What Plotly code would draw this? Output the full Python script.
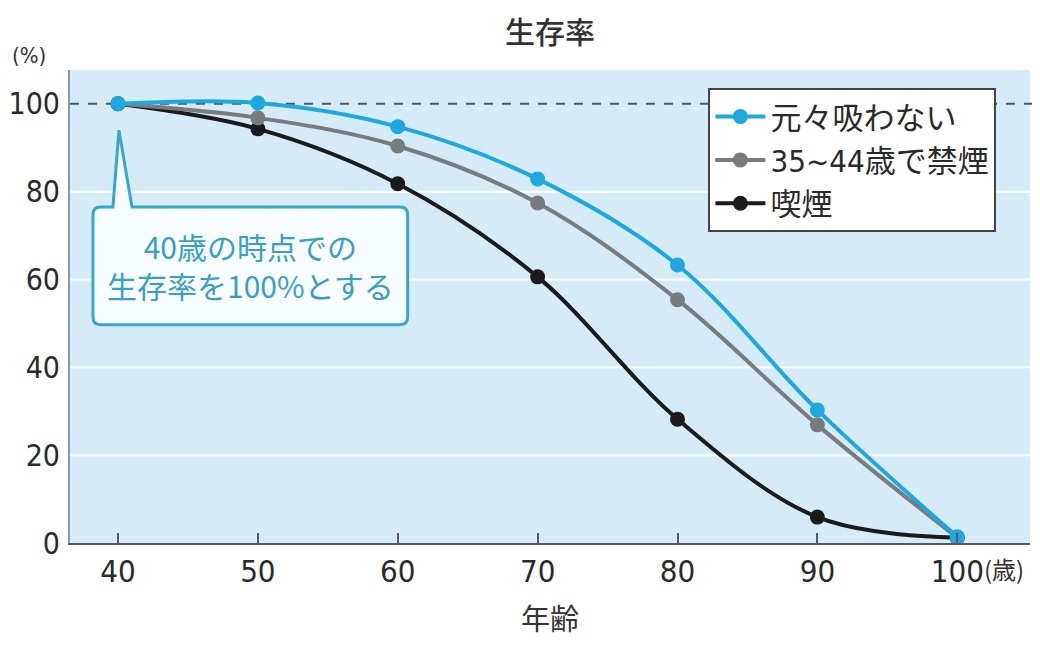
import plotly.graph_objects as go

ages = [40, 50, 60, 70, 80, 90, 100]
never_smoked = [100, 100.2, 94.8, 82.9, 63.3, 30.3, 1.4]
quit_35_44 = [100, 96.8, 90.4, 77.4, 55.4, 26.9, 1.2]
smokers = [100, 94.3, 81.8, 60.6, 28.2, 5.9, 1.2]

series_names = ["元々吸わない", "35~44歳で禁煙", "喫煙"]
series_colors = ["#1fa8e0", "#7a7b7d", "#1b1b1b"]
x_ticks = [40, 50, 60, 70, 80, 90, 100]
x_ticktext = ["40", "50", "60", "70", "80", "90", "100"]
y_ticks = [0, 20, 40, 60, 80, 100]
y_grid = [20, 40, 60, 80]
baseline_pct = 100

NARROW = "DejaVu Sans Condensed, Noto Sans CJK JP, sans-serif"
JP = "Noto Sans CJK JP, sans-serif"

fig = go.Figure()
data_sets = [never_smoked, quit_35_44, smokers]
for i in [2, 1, 0]:
    fig.add_trace(go.Scatter(
        x=ages, y=data_sets[i], name=series_names[i], mode="lines+markers",
        line=dict(color=series_colors[i], width=4, shape="spline", smoothing=1.0),
        marker=dict(color=series_colors[i], size=15),
        legendrank=i + 1,
    ))

# callout box with pointer (data coordinates)
x0, x1, yb, yt = 38.21, 60.71, 49.7, 76.5
rx, ry = 0.55, 1.8
px_l, px_a, px_r, apex_y = 39.64, 40.07, 41.0, 94.0
path = (f"M {x0+rx},{yt} L {px_l},{yt} L {px_a},{apex_y} L {px_r},{yt} L {x1-rx},{yt} "
        f"Q {x1},{yt} {x1},{yt-ry} L {x1},{yb+ry} Q {x1},{yb} {x1-rx},{yb} "
        f"L {x0+rx},{yb} Q {x0},{yb} {x0},{yb+ry} L {x0},{yt-ry} Q {x0},{yt} {x0+rx},{yt} Z")

shapes = [dict(type="line", xref="paper", yref="y", x0=0, x1=1, y0=g, y1=g,
               line=dict(color="white", width=2), layer="below") for g in y_grid]
shapes += [
    dict(type="line", xref="paper", yref="y", x0=0, x1=1.011, y0=baseline_pct, y1=baseline_pct,
         line=dict(color="#50565b", width=2, dash="dash"), layer="below"),
    dict(type="path", xref="x", yref="y", path=path, fillcolor="#f7fcfe",
         line=dict(color="#38a8c8", width=3), layer="above"),
]

annotations = [
    dict(x=49.46, y=63.1, xref="x", yref="y", text="40歳の時点での<br>生存率を100%とする",
         showarrow=False, font=dict(family=JP, size=30, color="#3aa0c2"), align="center"),
    dict(x=0.5, y=1.0, xref="paper", yref="paper", yshift=40, text="生存率", showarrow=False,
         font=dict(family=JP, size=30, color="#333333", weight=500), xanchor="center", yanchor="middle"),
    dict(x=0, y=1.0, xref="paper", yref="paper", xshift=-41, yshift=15, text="(%)", showarrow=False,
         font=dict(family=NARROW, size=22, color="#333333"), xanchor="center", yanchor="middle"),
    dict(x=100, y=0, xref="x", yref="paper", xshift=25, yshift=-25, text="(歳)", showarrow=False,
         font=dict(family=JP, size=24, color="#333333"), xanchor="left", yanchor="middle"),
    dict(x=0.5, y=0, xref="paper", yref="paper", yshift=-74, text="年齢", showarrow=False,
         font=dict(family=JP, size=29, color="#333333"), xanchor="center", yanchor="middle"),
]

fig.update_layout(
    width=1032, height=638,
    margin=dict(l=62, r=10, t=62, b=103),
    paper_bgcolor="white", plot_bgcolor="#d5ecf8",
    showlegend=True,
    legend=dict(x=0.665, y=0.962, xanchor="left", yanchor="top",
                bgcolor="white", bordercolor="#444444", borderwidth=2,
                font=dict(family=NARROW, size=31, color="#2a2a2a"),
                itemwidth=50, tracegroupgap=0),
    shapes=shapes, annotations=annotations,
    xaxis=dict(range=[36.57, 105.2], tickvals=x_ticks, ticktext=x_ticktext, automargin=False,
               ticks="inside", ticklen=10, tickwidth=2, tickcolor="#555a5e",
               showline=True, linecolor="#555a5e", linewidth=2, showgrid=False, zeroline=False,
               tickfont=dict(family=NARROW, size=31, color="#2a2a2a"), ticklabelstandoff=0),
    yaxis=dict(range=[0, 107.7], tickvals=y_ticks, showline=True, linecolor="#8a9aa3", linewidth=2,
               automargin=False, showgrid=False, zeroline=False, ticks="",
               tickfont=dict(family=NARROW, size=30, color="#2a2a2a"), ticklabelstandoff=2),
)

fig.write_html("out.html")
